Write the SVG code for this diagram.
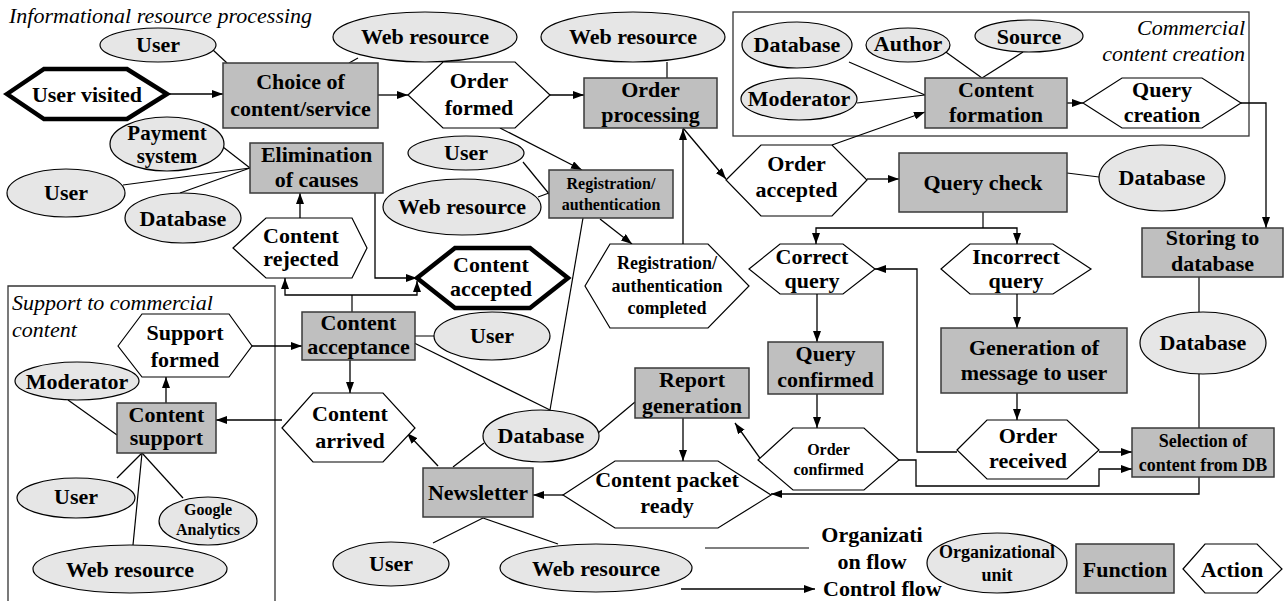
<svg xmlns="http://www.w3.org/2000/svg" width="1286" height="601" viewBox="0 0 1286 601">
<defs>
<marker id="arr" markerWidth="11" markerHeight="8" refX="11" refY="4" orient="auto" markerUnits="userSpaceOnUse">
<path d="M0,0 L11,4 L0,8 z" fill="#000"/>
</marker>
<style>
.fn{fill:#bfbfbf;stroke:#3a3a3a;stroke-width:1.5}
.org{fill:#e6e6e6;stroke:#000;stroke-width:1.2}
.ev{fill:#fff;stroke:#000;stroke-width:1.2}
.evk{fill:#fff;stroke:#000;stroke-width:4.5;stroke-linejoin:miter}
.box{fill:none;stroke:#333;stroke-width:1.3}
.ln{fill:none;stroke:#000;stroke-width:1.2}
.ar{fill:none;stroke:#000;stroke-width:1.3;marker-end:url(#arr)}
text{font-family:"Liberation Serif","Times New Roman",serif;font-weight:bold;font-size:22px;text-anchor:middle;fill:#000}
.s18{font-size:18px}
.s17{font-size:17px}
.s16{font-size:16px}
.s20{font-size:21px}
.it{font-style:italic;font-weight:normal;text-anchor:start}
.ite{font-style:italic;font-weight:normal;text-anchor:end}
.lg{text-anchor:start}
</style>
</defs>
<rect width="1286" height="601" fill="#fff"/>

<!-- area frames -->
<g id="areas">
<rect class="box" x="733" y="12" width="516" height="124"/>
<path class="box" d="M8,601 V286 H275 V601"/>
<text class="it" x="9" y="23">Informational resource processing</text>
<text class="ite" x="1245" y="35">Commercial</text>
<text class="ite" x="1245" y="61">content creation</text>
<text class="it" x="12" y="310">Support to commercial</text>
<text class="it" x="12" y="337">content</text>
</g>

<!-- connectors -->
<g id="connectors">
<!-- organizational links -->
<line class="ln" x1="213" y1="50" x2="227" y2="63"/>
<line class="ln" x1="358" y1="58" x2="349" y2="63"/>
<line class="ln" x1="667" y1="62" x2="667" y2="78"/>
<line class="ln" x1="849" y1="62" x2="925" y2="95"/>
<line class="ln" x1="857" y1="103" x2="925" y2="95"/>
<line class="ln" x1="943" y1="50" x2="982" y2="78"/>
<line class="ln" x1="1023" y1="52" x2="982" y2="78"/>
<line class="ln" x1="223" y1="147" x2="250" y2="168"/>
<line class="ln" x1="123" y1="185" x2="250" y2="168"/>
<line class="ln" x1="180" y1="193" x2="250" y2="168"/>
<line class="ln" x1="523" y1="162" x2="550" y2="195"/>
<line class="ln" x1="538" y1="197" x2="549" y2="193"/>
<line class="ln" x1="583" y1="218" x2="550" y2="410"/>
<line class="ln" x1="1067" y1="173" x2="1099" y2="177"/>
<line class="ln" x1="1199" y1="277" x2="1199" y2="312"/>
<line class="ln" x1="1199" y1="374" x2="1199" y2="428"/>
<line class="ln" x1="400" y1="336" x2="434" y2="336"/>
<line class="ln" x1="400" y1="336" x2="550" y2="410"/>
<line class="ln" x1="598" y1="433" x2="635" y2="402"/>
<line class="ln" x1="453" y1="467" x2="484" y2="443"/>
<line class="ln" x1="68" y1="400" x2="117" y2="435"/>
<line class="ln" x1="117" y1="478" x2="142" y2="453"/>
<line class="ln" x1="183" y1="498" x2="142" y2="453"/>
<line class="ln" x1="133" y1="545" x2="142" y2="453"/>
<line class="ln" x1="483" y1="518" x2="433" y2="543"/>
<line class="ln" x1="483" y1="518" x2="558" y2="544"/>
<!-- control flow -->
<line class="ar" x1="167" y1="94" x2="223" y2="94"/>
<line class="ar" x1="378" y1="95" x2="408" y2="95"/>
<line class="ar" x1="550" y1="95" x2="584" y2="95"/>
<line class="ar" x1="500" y1="128" x2="582" y2="170"/>
<line class="ar" x1="1067" y1="103" x2="1083" y2="103"/>
<polyline class="ar" points="1241,103 1266,103 1266,228"/>
<line class="ar" x1="832" y1="145" x2="925" y2="112"/>
<line class="ar" x1="683" y1="128" x2="726" y2="179"/>
<line class="ar" x1="683" y1="244" x2="683" y2="129"/>
<line class="ar" x1="600" y1="219" x2="632" y2="244"/>
<line class="ar" x1="867" y1="179" x2="899" y2="179"/>
<polyline class="ar" points="375,193 375,278 417,278"/>
<line class="ar" x1="300" y1="218" x2="300" y2="193"/>
<polyline class="ln" points="352,312 352,295"/>
<polyline class="ar" points="352,295 285,295 285,278"/>
<polyline class="ar" points="352,295 417,295 417,281"/>
<line class="ar" x1="252" y1="346" x2="302" y2="346"/>
<line class="ar" x1="350" y1="360" x2="350" y2="393"/>
<line class="ar" x1="282" y1="420" x2="216" y2="420"/>
<line class="ar" x1="166" y1="403" x2="166" y2="377"/>
<line class="ar" x1="438" y1="466" x2="407" y2="433"/>
<line class="ar" x1="683" y1="418" x2="683" y2="461"/>
<line class="ar" x1="563" y1="495" x2="533" y2="495"/>
<line class="ar" x1="817" y1="294" x2="817" y2="342"/>
<line class="ln" x1="983" y1="212" x2="983" y2="228"/>
<polyline class="ar" points="983,228 816,228 816,244"/>
<polyline class="ar" points="983,228 1017,228 1017,244"/>
<line class="ar" x1="1017" y1="294" x2="1017" y2="328"/>
<line class="ar" x1="1017" y1="393" x2="1017" y2="420"/>
<polyline class="ar" points="957,452 917,452 917,269 875,269"/>
<line class="ar" x1="1099" y1="452" x2="1132" y2="452"/>
<line class="ar" x1="817" y1="394" x2="817" y2="428"/>
<polyline class="ar" points="899,460 916,460 916,486 1099,486 1099,469 1132,469"/>
<line class="ar" x1="767" y1="468" x2="735" y2="423"/>
<polyline class="ar" points="1199,477 1199,494 771,494"/>
<!-- legend lines -->
<line class="ln" x1="705" y1="548" x2="809" y2="548"/>
<line class="ar" x1="681" y1="589" x2="815" y2="589"/>
</g>

<!-- organizational units -->
<g id="user-top"><ellipse class="org" cx="158" cy="45" rx="58" ry="17"/><text x="158" y="52">User</text></g>
<g id="web-top-1"><ellipse class="org" cx="425" cy="37" rx="92" ry="25"/><text x="425" y="44">Web resource</text></g>
<g id="web-top-2"><ellipse class="org" cx="633" cy="37" rx="92" ry="25"/><text x="633" y="44">Web resource</text></g>
<g id="db-creation"><ellipse class="org" cx="797" cy="45" rx="55" ry="23"/><text x="797" y="52">Database</text></g>
<g id="author"><ellipse class="org" cx="908" cy="45" rx="42" ry="17"/><text x="908" y="51">Author</text></g>
<g id="source"><ellipse class="org" cx="1029" cy="36" rx="54" ry="16"/><text x="1029" y="44">Source</text></g>
<g id="moderator-creation"><ellipse class="org" cx="799" cy="99" rx="58" ry="21"/><text x="799" y="106">Moderator</text></g>
<g id="payment-system"><ellipse class="org" cx="167" cy="144" rx="57" ry="27"/><text class="s20" x="167"><tspan x="167" y="140">Payment</tspan><tspan x="167" y="163">system</tspan></text></g>
<g id="user-reg"><ellipse class="org" cx="466" cy="153" rx="58" ry="17"/><text x="466" y="160">User</text></g>
<g id="web-reg"><ellipse class="org" cx="462" cy="207" rx="79" ry="28"/><text x="462" y="214">Web resource</text></g>
<g id="db-check"><ellipse class="org" cx="1162" cy="178" rx="63" ry="33"/><text x="1162" y="185">Database</text></g>
<g id="user-elim"><ellipse class="org" cx="66" cy="193" rx="59" ry="24"/><text x="66" y="200">User</text></g>
<g id="db-elim"><ellipse class="org" cx="183" cy="218" rx="58" ry="25"/><text x="183" y="226">Database</text></g>
<g id="db-store"><ellipse class="org" cx="1203" cy="343" rx="63" ry="31"/><text x="1203" y="350">Database</text></g>
<g id="user-accept"><ellipse class="org" cx="492" cy="336" rx="58" ry="24"/><text x="492" y="343">User</text></g>
<g id="moderator-support"><ellipse class="org" cx="77" cy="381" rx="62" ry="19"/><text x="77" y="389">Moderator</text></g>
<g id="db-news"><ellipse class="org" cx="541" cy="436" rx="58" ry="26"/><text x="541" y="443">Database</text></g>
<g id="user-support"><ellipse class="org" cx="76" cy="498" rx="59" ry="20"/><text x="76" y="504">User</text></g>
<g id="google-analytics"><ellipse class="org" cx="208" cy="521" rx="49" ry="24"/><text class="s16" x="208"><tspan x="208" y="515">Google</tspan><tspan x="208" y="535">Analytics</tspan></text></g>
<g id="web-support"><ellipse class="org" cx="130" cy="569" rx="97" ry="24"/><text x="130" y="577">Web resource</text></g>
<g id="user-news"><ellipse class="org" cx="391" cy="564" rx="58" ry="22"/><text x="391" y="571">User</text></g>
<g id="web-news"><ellipse class="org" cx="596" cy="568" rx="96" ry="24"/><text x="596" y="576">Web resource</text></g>

<!-- functions -->
<g id="choice"><rect class="fn" x="223" y="63" width="155" height="65"/><text x="300.5"><tspan x="300.5" y="89">Choice of</tspan><tspan x="300.5" y="116">content/service</tspan></text></g>
<g id="order-processing"><rect class="fn" x="584" y="78" width="133" height="50"/><text x="650.5"><tspan x="650.5" y="97">Order</tspan><tspan x="650.5" y="122">processing</tspan></text></g>
<g id="content-formation"><rect class="fn" x="925" y="78" width="142" height="50"/><text x="996"><tspan x="996" y="97">Content</tspan><tspan x="996" y="122">formation</tspan></text></g>
<g id="elimination"><rect class="fn" x="250" y="143" width="133" height="50"/><text x="316.5"><tspan x="316.5" y="162">Elimination</tspan><tspan x="316.5" y="187">of causes</tspan></text></g>
<g id="registration"><rect class="fn" x="549" y="170" width="124" height="48"/><text class="s16" x="611"><tspan x="611" y="189">Registration/</tspan><tspan x="611" y="210">authentication</tspan></text></g>
<g id="query-check"><rect class="fn" x="899" y="153" width="168" height="59"/><text x="983" y="190">Query check</text></g>
<g id="storing"><rect class="fn" x="1142" y="228" width="141" height="49"/><text x="1212.5"><tspan x="1212.5" y="245">Storing to</tspan><tspan x="1212.5" y="271">database</tspan></text></g>
<g id="content-acceptance"><rect class="fn" x="302" y="312" width="113" height="48"/><text x="358.5"><tspan x="358.5" y="330">Content</tspan><tspan x="358.5" y="354">acceptance</tspan></text></g>
<g id="query-confirmed"><rect class="fn" x="768" y="342" width="115" height="52"/><text x="825.5"><tspan x="825.5" y="361">Query</tspan><tspan x="825.5" y="387">confirmed</tspan></text></g>
<g id="generation"><rect class="fn" x="941" y="328" width="186" height="65"/><text x="1034"><tspan x="1034" y="355">Generation of</tspan><tspan x="1034" y="380">message to user</tspan></text></g>
<g id="report"><rect class="fn" x="635" y="368" width="114" height="50"/><text x="692"><tspan x="692" y="387">Report</tspan><tspan x="692" y="413">generation</tspan></text></g>
<g id="content-support"><rect class="fn" x="117" y="403" width="99" height="50"/><text x="166.5"><tspan x="166.5" y="422">Content</tspan><tspan x="166.5" y="445">support</tspan></text></g>
<g id="selection"><rect class="fn" x="1132" y="428" width="142" height="49"/><text class="s18" x="1203"><tspan x="1203" y="447">Selection of</tspan><tspan x="1203" y="471">content from DB</tspan></text></g>
<g id="newsletter"><rect class="fn" x="423" y="468" width="110" height="49"/><text x="478" y="500">Newsletter</text></g>

<!-- events -->
<g id="user-visited"><polygon class="evk" points="7,94 44,69 127,69 167,94 127,119 44,119"/><text x="87" y="102">User visited</text></g>
<g id="order-formed"><polygon class="ev" points="408,95 443,62 515,62 550,95 515,128 443,128"/><text x="479"><tspan x="479" y="88">Order</tspan><tspan x="479" y="115">formed</tspan></text></g>
<g id="query-creation"><polygon class="ev" points="1083,103 1122,78 1202,78 1241,103 1202,128 1122,128"/><text x="1162"><tspan x="1162" y="97">Query</tspan><tspan x="1162" y="122">creation</tspan></text></g>
<g id="order-accepted"><polygon class="ev" points="726,180 761,145 832,145 867,180 832,216 761,216"/><text x="796.5"><tspan x="796.5" y="171">Order</tspan><tspan x="796.5" y="197">accepted</tspan></text></g>
<g id="content-rejected"><polygon class="ev" points="233,248 266,218 352,218 367,248 352,278 266,278"/><text x="301"><tspan x="301" y="243">Content</tspan><tspan x="301" y="266">rejected</tspan></text></g>
<g id="content-accepted"><polygon class="evk" points="417,278 455,248 530,248 568,278 530,308 455,308"/><text x="491"><tspan x="491" y="272">Content</tspan><tspan x="491" y="296">accepted</tspan></text></g>
<g id="registration-completed"><polygon class="ev" points="585,286 610,244 708,244 749,286 708,328 610,328"/><text class="s18" x="667"><tspan x="667" y="269">Registration/</tspan><tspan x="667" y="292">authentication</tspan><tspan x="667" y="314">completed</tspan></text></g>
<g id="correct-query"><polygon class="ev" points="749,269 780,244 843,244 875,269 843,294 780,294"/><text x="812"><tspan x="812" y="264">Correct</tspan><tspan x="812" y="288">query</tspan></text></g>
<g id="incorrect-query"><polygon class="ev" points="941,269 970,244 1053,244 1091,269 1053,294 970,294"/><text x="1016"><tspan x="1016" y="264">Incorrect</tspan><tspan x="1016" y="288">query</tspan></text></g>
<g id="support-formed"><polygon class="ev" points="118,346 142,314 229,314 252,346 229,377 142,377"/><text x="185"><tspan x="185" y="340">Support</tspan><tspan x="185" y="367">formed</tspan></text></g>
<g id="content-arrived"><polygon class="ev" points="282,428 313,393 383,393 415,428 383,462 313,462"/><text x="350"><tspan x="350" y="421">Content</tspan><tspan x="350" y="448">arrived</tspan></text></g>
<g id="order-confirmed"><polygon class="ev" points="758,460 793,428 864,428 899,460 864,490 793,490"/><text class="s16" x="828.5"><tspan x="828.5" y="455">Order</tspan><tspan x="828.5" y="475">confirmed</tspan></text></g>
<g id="order-received"><polygon class="ev" points="957,450 987,420 1067,420 1099,450 1067,479 987,479"/><text x="1028"><tspan x="1028" y="443">Order</tspan><tspan x="1028" y="468">received</tspan></text></g>
<g id="content-packet"><polygon class="ev" points="563,495 615,461 718,461 771,495 718,528 615,528"/><text x="667"><tspan x="667" y="487">Content packet</tspan><tspan x="667" y="513">ready</tspan></text></g>

<!-- legend -->
<g id="legend">
<text x="872"><tspan x="872" y="542">Organizati</tspan><tspan x="872" y="569">on flow</tspan></text>
<text class="lg" x="823" y="596">Control flow</text>
<ellipse class="org" cx="997" cy="563" rx="70" ry="30"/>
<text class="s18" x="997"><tspan x="997" y="558">Organizational</tspan><tspan x="997" y="581">unit</tspan></text>
<rect class="fn" x="1076" y="544" width="98" height="49"/>
<text x="1125" y="577">Function</text>
<polygon class="ev" points="1183,569 1205,544 1257,544 1282,569 1257,593 1205,593"/>
<text x="1232" y="577">Action</text>
</g>
</svg>
